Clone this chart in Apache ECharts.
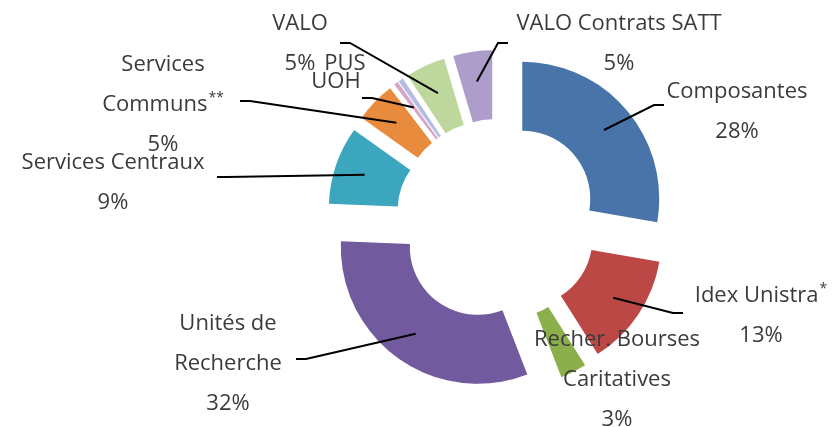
<!DOCTYPE html>
<html>
<head>
<meta charset="utf-8">
<script src="https://cdn.jsdelivr.net/npm/echarts@6/dist/echarts.min.js"></script>
<style>
  html, body { margin: 0; padding: 0; background: #fff; }
  #chart { width: 836px; height: 427px; }
</style>
</head>
<body>
<div id="chart"></div>
<script>
// categories (with the line breaks of the original labels)
var categories = [
    'Composantes',
    'Idex Unistra*',
    'Recher. Bourses\nCaritatives',
    'Unités de\nRecherche',
    'Services Centraux',
    'Services\nCommuns**',
    'UOH',
    'PUS',
    'VALO',
    'VALO Contrats SATT'
];
// shares in %
var values = [27.8, 13.3, 3.1, 31.6, 9.2, 4.8, 0.5, 0.6, 4.7, 4.6];
var colors = ['#4874AA', '#BB4845', '#8BB04B', '#725A9E', '#3DA6BF', '#E98B3D',
              '#D6A6C6', '#B3BCE2', '#BED79C', '#AC9DCA'];
// which labels show the percent / a leader line
var showPercent = [true, true, true, true, true, true, false, false, true, true];
var showLine = [true, true, false, true, true, true, true, false, true, true];

// label block centres and leader line ends, following the original layout
var labelPos = [
    [737, 112], [761, 316], [617, 380], [228, 364], [113, 183],
    [163, 105], [336, 82], [345, 64], [300, 44], [619, 44]
];
var lineEnd = [
    [664, 105], [683, 313], null, [296, 359], [217, 177],
    [240, 101], [362, 98], null, [340, 43], [508, 43]
];

var cx = 497, cy = 220, rIn = 68, rOut = 137, explode = 33;

var total = values.reduce(function (a, b) { return a + b; }, 0);

var data = categories.map(function (name, i) {
    return {
        name: name,
        value: values[i],
        selected: true,
        itemStyle: {color: colors[i]},
        select: {itemStyle: {color: colors[i]}}
    };
});

// labels and leader lines
var graphics = [];
var acc = 0;
for (var i = 0; i < values.length; i++) {
    var a = (acc + values[i] / 2) / total * 2 * Math.PI;
    acc += values[i];
    // small raised asterisks, as in the original
    var txt = categories[i].replace(/(\*+)/, '{s|$1}');
    if (showPercent[i]) {
        txt += '\n' + Math.round(values[i] / total * 100) + '%';
    }
    graphics.push({
        type: 'text',
        x: labelPos[i][0],
        y: labelPos[i][1],
        z: 10,
        style: {
            text: txt,
            fill: '#3b3b3b',
            font: '22px "Open Sans"',
            lineHeight: 40,
            align: 'center',
            verticalAlign: 'middle',
            rich: {
                s: {
                    fill: '#3b3b3b',
                    font: '14px "Open Sans"',
                    lineHeight: 40,
                    verticalAlign: 'top',
                    padding: [6, 0, 0, 1]
                }
            }
        }
    });
    if (showLine[i]) {
        var d = explode + 0.78 * rOut;
        var start = [cx + d * Math.sin(a), cy - d * Math.cos(a)];
        var end = lineEnd[i];
        var bend = [end[0] + (start[0] > end[0] ? 10 : -10), end[1]];
        graphics.push({
            type: 'polyline',
            z: 10,
            shape: {points: [start, bend, end]},
            style: {stroke: '#000', lineWidth: 2, fill: null}
        });
    }
}

var chart = echarts.init(document.getElementById('chart'));

var option = {
    backgroundColor: '#fff',
    animation: false,
    graphic: graphics,
    series: [{
        type: 'pie',
        center: [cx, cy],
        radius: [rIn, rOut],
        startAngle: 90,
        clockwise: true,
        selectedMode: 'multiple',
        selectedOffset: explode,
        avoidLabelOverlap: false,
        emphasis: {scale: false},
        label: {show: false},
        labelLine: {show: false},
        data: data
    }]
};

chart.setOption(option);
</script>
</body>
</html>
